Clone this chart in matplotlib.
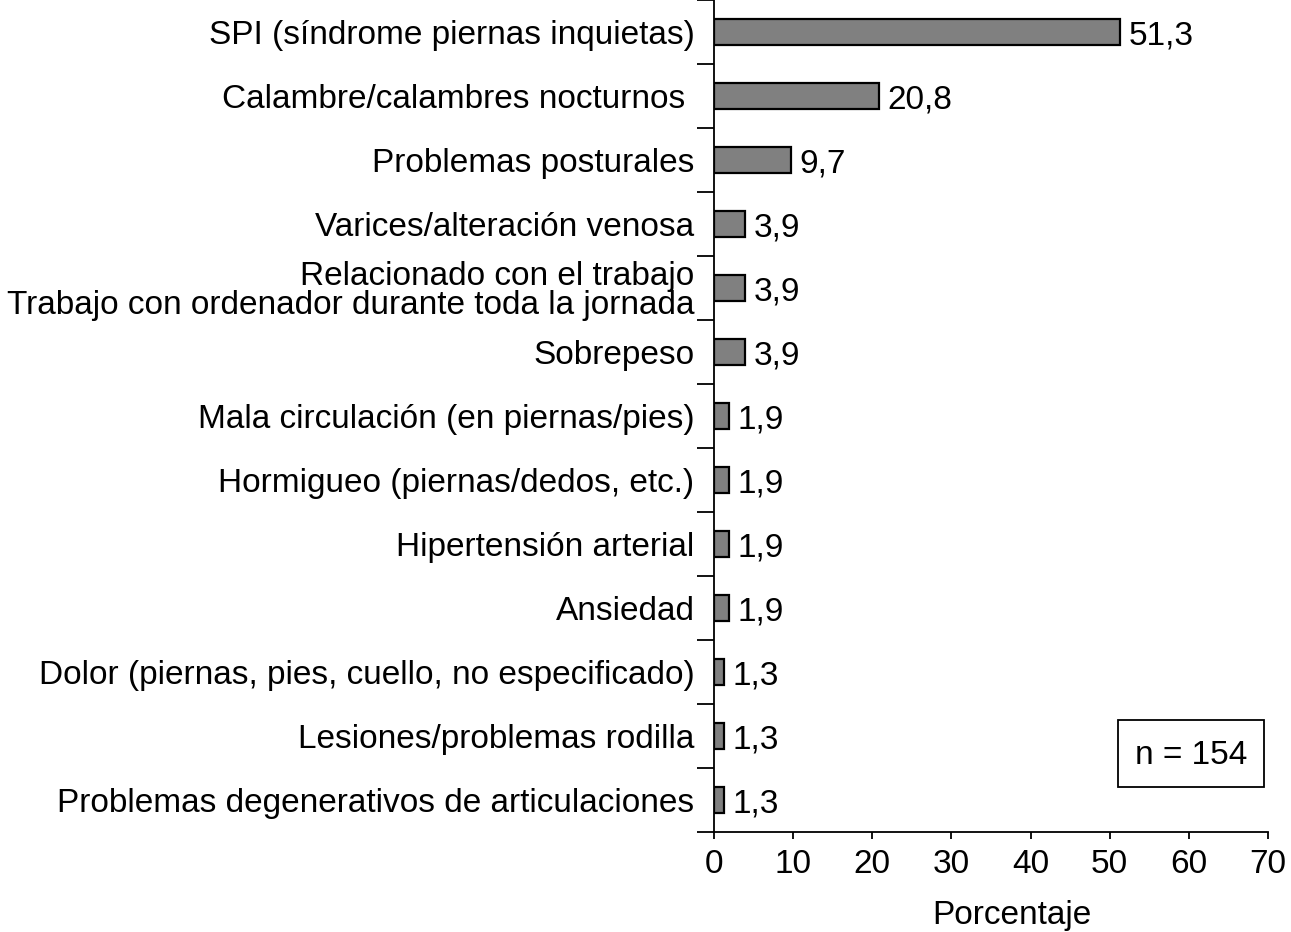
import matplotlib
matplotlib.use("Agg")
import matplotlib.pyplot as plt
from matplotlib.patches import Rectangle
import numpy as np

categories = [
    "SPI (síndrome piernas inquietas)",
    "Calambre/calambres nocturnos ",
    "Problemas posturales",
    "Varices/alteración venosa",
    "Relacionado con el trabajo\nTrabajo con ordenador durante toda la jornada",
    "Sobrepeso",
    "Mala circulación (en piernas/pies)",
    "Hormigueo (piernas/dedos, etc.)",
    "Hipertensión arterial",
    "Ansiedad",
    "Dolor (piernas, pies, cuello, no especificado)",
    "Lesiones/problemas rodilla",
    "Problemas degenerativos de articulaciones",
]
values = [51.3, 20.8, 9.7, 3.9, 3.9, 3.9, 1.9, 1.9, 1.9, 1.9, 1.3, 1.3, 1.3]
value_labels = ["51,3", "20,8", "9,7", "3,9", "3,9", "3,9", "1,9", "1,9", "1,9", "1,9", "1,3", "1,3", "1,3"]
xticks = [0, 10, 20, 30, 40, 50, 60, 70]

plt.rcParams['font.family'] = ['Liberation Sans', 'DejaVu Sans']
FS = 24

W, H = 1291, 932
fig = plt.figure(figsize=(W / 100, H / 100), dpi=100)
ax = fig.add_axes([714 / W, 1 - 832 / H, (1268 - 714) / W, 832 / H])

n = len(categories)
y = np.arange(n)
ax.barh(y, values, height=0.41, color="#808080", edgecolor="black", linewidth=1.6)
for yi, v, lab in zip(y, values, value_labels):
    ax.text(v + 1.1, yi + 0.06, lab, ha="left", va="center", fontsize=FS)

ax.set_ylim(n - 0.5, -0.5)
ax.set_xlim(0, 70)
ax.set_yticks(y)
ax.set_yticklabels(categories, fontsize=FS, linespacing=0.95)
ax.tick_params(axis="y", length=0, pad=14)
ax.set_yticks(np.arange(n + 1) - 0.5, minor=True)
ax.tick_params(axis="y", which="minor", length=12, width=1.3, direction="out")
ax.set_xticks(xticks)
ax.set_xticklabels([str(t) for t in xticks], fontsize=FS)
ax.tick_params(axis="x", length=5, width=1.3, direction="out", pad=7)

for s in ["top", "right"]:
    ax.spines[s].set_visible(False)
for s in ["left", "bottom"]:
    ax.spines[s].set_linewidth(1.3)

ax.set_xlabel("Porcentaje", fontsize=FS, va="baseline")
ax.xaxis.set_label_coords((1012 - 714) / (1268 - 714), -(924 - 832) / 832)

fig.add_artist(Rectangle((1118 / W, 1 - 787 / H), (1264 - 1118) / W, (787 - 720) / H,
                         transform=fig.transFigure, facecolor="white", edgecolor="black", linewidth=1.3))
fig.text(1191 / W, 1 - 755 / H, "n = 154", fontsize=FS, ha="center", va="center")

fig.savefig("out.png", dpi=100)
